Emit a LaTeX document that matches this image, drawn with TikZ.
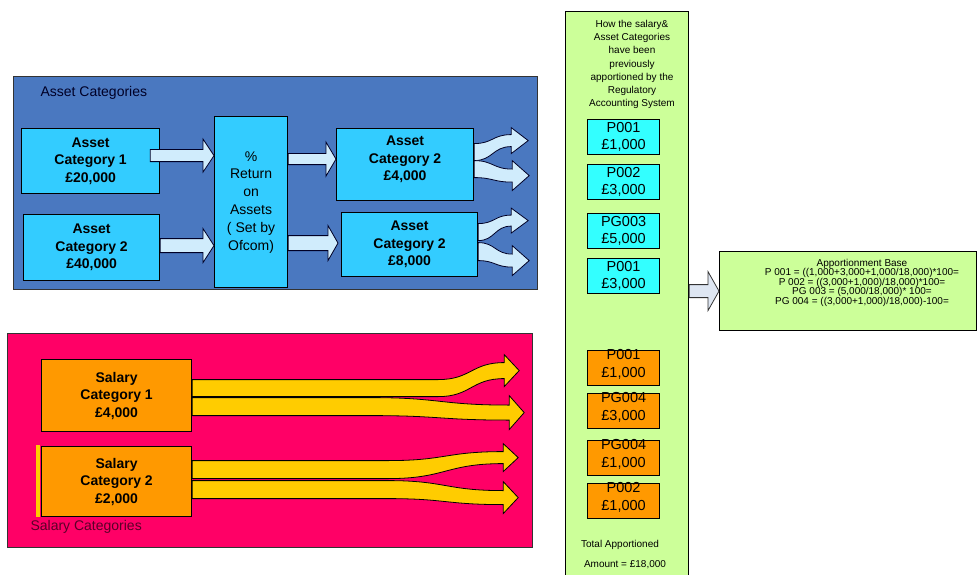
\documentclass[tikz,border=0pt]{standalone}
\usepackage{fontspec}
\setmainfont{Liberation Sans}
\usetikzlibrary{calc}
\definecolor{panelblue}{RGB}{74,120,192}
\definecolor{assetcyan}{RGB}{51,204,255}
\definecolor{arrowlight}{RGB}{208,236,252}
\definecolor{pinkbg}{RGB}{255,0,102}
\definecolor{orangebox}{RGB}{255,153,0}
\definecolor{yellowarrow}{RGB}{255,204,0}
\definecolor{greencol}{RGB}{204,255,153}
\definecolor{cyanbox}{RGB}{51,255,255}
\definecolor{greyarrow}{RGB}{222,230,242}
\definecolor{salmaroon}{RGB}{90,0,40}
% block arrow: #1 style, #2 tail centre, #3 tip, #4 tail half width, #5 half width at head,
% #6 head half width, #7 head length, #8 straight length before bending
\newcommand{\barrow}[8]{%
  \path[#1] let \p1=#2, \p2=#3,
    \n1={\x2-#7pt}, \n2={\x1+#8pt}, \n3={(\n2+\n1)/2} in
    (\x1,\y1+#4pt) -- (\n2,\y1+#4pt)
    .. controls (\n3,\y1+#4pt) and (\n3,\y2+#5pt) .. (\n1,\y2+#5pt)
    -- (\n1,\y2+#6pt) -- (\x2,\y2) -- (\n1,\y2-#6pt) -- (\n1,\y2-#5pt)
    .. controls (\n3,\y2-#5pt) and (\n3,\y1-#4pt) .. (\n2,\y1-#4pt)
    -- (\x1,\y1-#4pt) -- cycle;}
\newcommand{\liftup}[2]{\raisebox{#1}[\height][\depth]{\begin{tabular}{@{}c@{}}#2\end{tabular}}}
\begin{document}
\begin{tikzpicture}[x=1pt,y=-1pt,
  panel/.style={draw=black!80, line width=1pt, anchor=north west, inner sep=0pt},
  abox/.style={draw=black, line width=1.2pt, fill=assetcyan, anchor=north west, inner sep=0pt,
    align=center, font={\fontsize{14}{17.5}\selectfont\bfseries}},
  rbox/.style={abox, font={\fontsize{14}{17.8}\selectfont}},
  sbox/.style={abox, fill=orangebox},
  cbox/.style={draw=black, line width=1.2pt, fill=cyanbox, anchor=north west, inner sep=0pt,
    align=center, minimum width=72pt, minimum height=35pt, font={\fontsize{14.5}{17.5}\selectfont}},
  obox/.style={cbox, fill=orangebox},
  aarrow/.style={fill=arrowlight, draw=black!85!blue, line width=0.8pt},
  yarrow/.style={fill=yellowarrow, draw=black, line width=0.8pt},
  garrow/.style={fill=greyarrow, draw=black!80, line width=0.8pt},
  smalltext/.style={align=center, font={\fontsize{10}{13.2}\selectfont}}
]
\useasboundingbox (0,0) rectangle (977,575);
\fill[white] (0,0) rectangle (977,575);

% panels
\node[panel, fill=panelblue, minimum width=524pt, minimum height=213pt] (assetpanel) at (13,76) {};
\node[panel, fill=pinkbg, minimum width=525pt, minimum height=214pt] (salpanel) at (7,333) {};
\node[panel, draw=black, line width=1.2pt, fill=greencol, minimum width=123pt, minimum height=570pt] (col) at (565,11) {};
\node[panel, draw=black, line width=1.2pt, fill=greencol, minimum width=257pt, minimum height=79pt] (rb) at (719,251) {};

\node[anchor=west, font={\fontsize{14}{16}\selectfont}, text=black!85!blue] (assetlbl) at (37,93) {Asset Categories};
\node[anchor=west, font={\fontsize{14}{16}\selectfont}, text=salmaroon] (sallbl) at (27,527) {Salary Categories};

% asset boxes
\node[abox, minimum width=138pt, minimum height=65pt] (c1) at (21,128) {Asset\\Category 1\\£20,000};
\node[abox, minimum width=136pt, minimum height=66pt] (c2) at (23,214) {Asset\\Category 2\\£40,000};
\node[rbox, minimum width=73pt, minimum height=171pt] (ret) at (214,116) {\%\\Return\\on\\Assets\\( Set by\\Ofcom)};
\node[abox, minimum width=137pt, minimum height=72pt] (bA) at (336,128) {\liftup{5pt}{Asset\\Category 2\\£4,000}};
\node[abox, minimum width=136pt, minimum height=64pt] (bB) at (341,212) {Asset\\Category 2\\£8,000};

% salary boxes
\fill[yellowarrow] (36,445) rectangle (40,517);
\node[sbox, minimum width=150pt, minimum height=72pt] (s1) at (41,359) {Salary\\Category 1\\£4,000};
\node[sbox, minimum width=150pt, minimum height=70pt] (s2) at (41,446) {Salary\\Category 2\\£2,000};

% column content
\node[smalltext] (coltxt) at (632,64.5) {How the salary\&\\Asset Categories\\have been\\previously\\apportioned by the\\Regulatory\\Accounting System};
\node[cbox] (p1) at (587,119) {P001\\£1,000};
\node[cbox] (p2) at (587,164) {P002\\£3,000};
\node[cbox] (p3) at (587,213) {PG003\\£5,000};
\node[cbox] (p4) at (587,258) {P001\\£3,000};
\node[obox, minimum height=34pt] (o1) at (587,350) {\liftup{3pt}{P001\\£1,000}};
\node[obox, minimum height=34pt] (o2) at (587,393) {\liftup{3pt}{PG004\\£3,000}};
\node[obox, minimum height=34pt] (o3) at (587,440) {\liftup{3pt}{PG004\\£1,000}};
\node[obox] (o4) at (587,483) {\liftup{3pt}{P002\\£1,000}};
\node[smalltext] (tot1) at (620,545) {Total Apportioned};
\node[smalltext] (tot2) at (625,565) {Amount = £18,000};

\node[align=center, font={\fontsize{10}{9.5}\selectfont}] (rbtext) at (862,282.5)
  {Apportionment Base\\P 001 = ((1,000+3,000+1,000/18,000)*100=\\P 002 = ((3,000+1,000)/18,000)*100=\\PG 003 = (5,000/18,000)* 100=\\PG 004 = ((3,000+1,000)/18,000)-100=};

% asset arrows
\coordinate (a1s) at ($(c1.east)+(-10,-5.5)$);
\barrow{aarrow}{(a1s)}{(ret.west |- a1s)}{6}{6}{16.5}{11}{0}
\coordinate (a2s) at ($(c2.east)+(0,-2)$);
\barrow{aarrow}{(a2s)}{(ret.west |- a2s)}{7}{7}{17}{11}{0}
\coordinate (a3t) at ($(bA.west)+(0,-5.5)$);
\barrow{aarrow}{(ret.east |- a3t)}{(a3t)}{5.5}{5.5}{17}{10}{0}
\coordinate (a4t) at ($(bB.west)+(-3,-1.5)$);
\barrow{aarrow}{(ret.east |- a4t)}{(a4t)}{7.5}{7.5}{17.5}{10}{0}

\coordinate (aAu) at ($(bA.east)+(54,-24)$);
\barrow{aarrow}{($(bA.east)+(0,-12.5)$)}{(aAu)}{8.5}{6}{13}{17}{0}
\coordinate (aAl) at ($(bA.east)+(55,11)$);
\barrow{aarrow}{($(bA.east)+(0,4.5)$)}{(aAl)}{8.5}{6.5}{15}{17}{0}
\coordinate (aBu) at ($(bB.east)+(50,-24)$);
\barrow{aarrow}{($(bB.east)+(0,-12.5)$)}{(aBu)}{8.5}{5.5}{12.5}{17}{0}
\coordinate (aBl) at ($(bB.east)+(51,16)$);
\barrow{aarrow}{($(bB.east)+(0,7)$)}{(aBl)}{9}{6.5}{15}{17}{0}

% salary arrows
\coordinate (s1l) at ($(s1.east)+(332,17)$);
\barrow{yarrow}{($(s1.east)+(0,11)$)}{(s1l)}{9}{7.5}{17}{15}{179}
\coordinate (s1u) at ($(s1.east)+(327,-25)$);
\barrow{yarrow}{($(s1.east)+(0,-7.5)$)}{(s1u)}{8.5}{8}{16}{15}{246}
\coordinate (s2u) at ($(s2.east)+(326,-24)$);
\barrow{yarrow}{($(s2.east)+(0,-12)$)}{(s2u)}{9}{6}{14}{15}{196}
\coordinate (s2l) at ($(s2.east)+(326,16)$);
\barrow{yarrow}{($(s2.east)+(0,8)$)}{(s2l)}{9}{7}{16}{15}{196}

% column to apportionment base
\barrow{garrow}{(col.east |- rb.west)}{(rb.west)}{6.5}{6.5}{19.5}{11}{0}
\end{tikzpicture}
\end{document}
